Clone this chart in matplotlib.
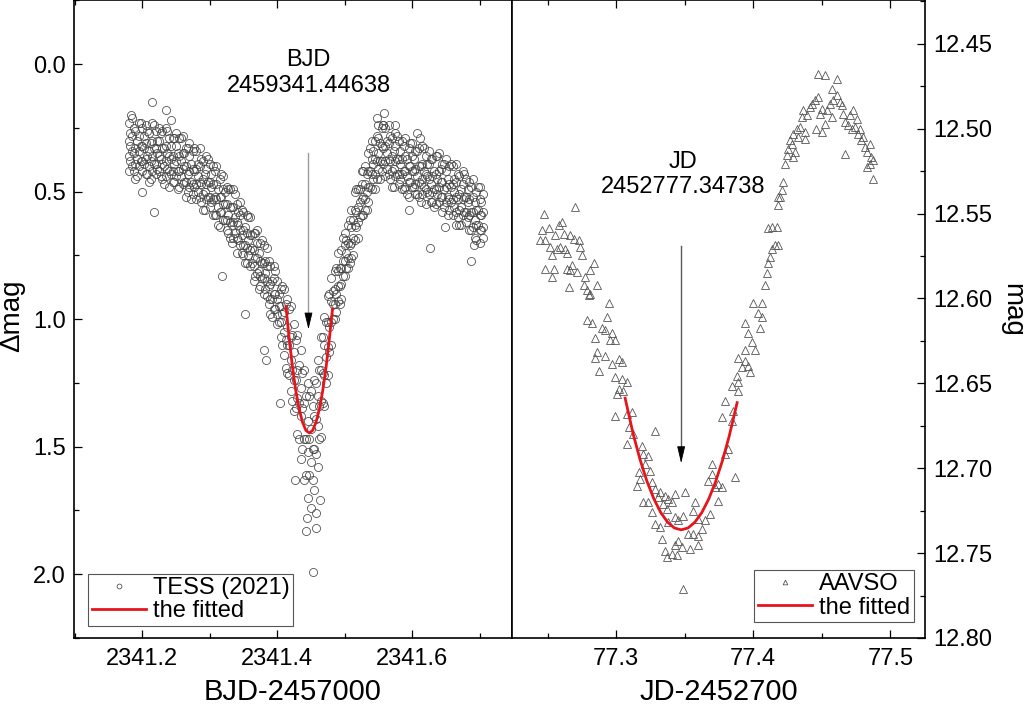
import numpy as np
import matplotlib
matplotlib.use("Agg")
import matplotlib.pyplot as plt
from matplotlib.ticker import MultipleLocator, FormatStrFormatter

plt.rcParams['font.family'] = ['Liberation Sans', 'DejaVu Sans']

# ---- TESS (2021), BJD-2457000 : four readings per time step ----
tess_t = [
    2341.180, 2341.185, 2341.190, 2341.195, 2341.200, 2341.205, 2341.210, 2341.215, 2341.220, 2341.225,
    2341.230, 2341.235, 2341.240, 2341.245, 2341.250, 2341.255, 2341.260, 2341.265, 2341.270, 2341.275,
    2341.280, 2341.285, 2341.290, 2341.295, 2341.300, 2341.305, 2341.310, 2341.315, 2341.320, 2341.325,
    2341.330, 2341.335, 2341.340, 2341.345, 2341.350, 2341.355, 2341.360, 2341.365, 2341.370, 2341.375,
    2341.380, 2341.385, 2341.390, 2341.395, 2341.400, 2341.405, 2341.410, 2341.415, 2341.420, 2341.425,
    2341.430, 2341.435, 2341.440, 2341.445, 2341.450, 2341.455, 2341.460, 2341.465, 2341.470, 2341.475,
    2341.480, 2341.485, 2341.490, 2341.495, 2341.500, 2341.505, 2341.510, 2341.515, 2341.520, 2341.525,
    2341.530, 2341.535, 2341.540, 2341.545, 2341.550, 2341.555, 2341.560, 2341.565, 2341.570, 2341.575,
    2341.580, 2341.585, 2341.590, 2341.595, 2341.600, 2341.605, 2341.610, 2341.615, 2341.620, 2341.625,
    2341.630, 2341.635, 2341.640, 2341.645, 2341.650, 2341.655, 2341.660, 2341.665, 2341.670, 2341.675,
    2341.680, 2341.685, 2341.690, 2341.695, 2341.700, 2341.705,
]
tess_dm = [
    [0.23, 0.30, 0.36, 0.42], [0.21, 0.28, 0.34, 0.40], [0.26, 0.33, 0.39, 0.45], [0.23, 0.28, 0.34, 0.40],
    [0.25, 0.32, 0.38, 0.42], [0.24, 0.31, 0.37, 0.43], [0.27, 0.34, 0.40, 0.46], [0.23, 0.30, 0.36, 0.42],
    [0.26, 0.33, 0.39, 0.43], [0.25, 0.30, 0.36, 0.42], [0.26, 0.33, 0.39, 0.45], [0.25, 0.32, 0.38, 0.44],
    [0.29, 0.36, 0.42, 0.48], [0.29, 0.36, 0.42, 0.46], [0.27, 0.32, 0.38, 0.44], [0.29, 0.36, 0.42, 0.48],
    [0.28, 0.35, 0.41, 0.47], [0.33, 0.40, 0.46, 0.52], [0.31, 0.36, 0.42, 0.48], [0.34, 0.41, 0.47, 0.51],
    [0.34, 0.41, 0.47, 0.53], [0.33, 0.40, 0.46, 0.52], [0.38, 0.45, 0.51, 0.57], [0.36, 0.41, 0.47, 0.53],
    [0.39, 0.46, 0.52, 0.56], [0.40, 0.47, 0.53, 0.59], [0.40, 0.47, 0.53, 0.59], [0.45, 0.52, 0.58, 0.64],
    [0.44, 0.49, 0.55, 0.61], [0.48, 0.55, 0.61, 0.65], [0.49, 0.56, 0.62, 0.68], [0.49, 0.56, 0.62, 0.68],
    [0.55, 0.62, 0.68, 0.74], [0.54, 0.59, 0.65, 0.71], [0.58, 0.65, 0.71, 0.75], [0.59, 0.66, 0.72, 0.78],
    [0.60, 0.67, 0.73, 0.79], [0.66, 0.73, 0.79, 0.85], [0.65, 0.70, 0.76, 0.82], [0.70, 0.77, 0.83, 0.87],
    [0.71, 0.78, 0.84, 0.90], [0.72, 0.79, 0.85, 0.91], [0.79, 0.86, 0.92, 0.98], [0.79, 0.84, 0.90, 0.96],
    [0.85, 0.92, 0.98, 1.02], [0.88, 0.95, 1.01, 1.07], [0.88, 0.97, 1.05, 1.14], [0.92, 1.03, 1.10, 1.21],
    [0.95, 1.07, 1.16, 1.28], [1.02, 1.13, 1.24, 1.36], [1.06, 1.20, 1.31, 1.45], [1.12, 1.27, 1.38, 1.55],
    [1.20, 1.33, 1.47, 1.63], [1.25, 1.40, 1.52, 1.70], [1.28, 1.43, 1.56, 1.74], [1.24, 1.38, 1.51, 1.67],
    [1.16, 1.30, 1.42, 1.58], [1.07, 1.20, 1.32, 1.46], [0.99, 1.10, 1.22, 1.34], [0.91, 1.01, 1.11, 1.22],
    [0.84, 0.93, 1.01, 1.10], [0.81, 0.88, 0.94, 1.00], [0.74, 0.81, 0.87, 0.93], [0.73, 0.80, 0.86, 0.92],
    [0.66, 0.71, 0.77, 0.83], [0.63, 0.70, 0.76, 0.80], [0.57, 0.64, 0.70, 0.76], [0.50, 0.57, 0.63, 0.69],
    [0.49, 0.56, 0.62, 0.68], [0.42, 0.47, 0.53, 0.59], [0.40, 0.47, 0.53, 0.57], [0.35, 0.42, 0.48, 0.54],
    [0.30, 0.37, 0.43, 0.49], [0.30, 0.37, 0.43, 0.49], [0.24, 0.29, 0.35, 0.41], [0.25, 0.32, 0.38, 0.42],
    [0.25, 0.32, 0.38, 0.44], [0.24, 0.31, 0.37, 0.43], [0.29, 0.36, 0.42, 0.48], [0.27, 0.32, 0.38, 0.44],
    [0.30, 0.37, 0.43, 0.47], [0.30, 0.37, 0.43, 0.49], [0.29, 0.36, 0.42, 0.48], [0.33, 0.40, 0.46, 0.52],
    [0.31, 0.36, 0.42, 0.48], [0.34, 0.41, 0.47, 0.51], [0.33, 0.40, 0.46, 0.52], [0.32, 0.39, 0.45, 0.51],
    [0.36, 0.43, 0.49, 0.55], [0.34, 0.39, 0.45, 0.51], [0.37, 0.44, 0.50, 0.54], [0.36, 0.43, 0.49, 0.55],
    [0.35, 0.42, 0.48, 0.54], [0.39, 0.46, 0.52, 0.58], [0.37, 0.42, 0.48, 0.54], [0.40, 0.47, 0.53, 0.57],
    [0.40, 0.47, 0.53, 0.59], [0.39, 0.46, 0.52, 0.58], [0.44, 0.51, 0.57, 0.63], [0.42, 0.47, 0.53, 0.59],
    [0.45, 0.52, 0.58, 0.62], [0.46, 0.53, 0.59, 0.65], [0.45, 0.52, 0.58, 0.64], [0.50, 0.57, 0.63, 0.69],
    [0.48, 0.53, 0.59, 0.65], [0.51, 0.58, 0.64, 0.68],
]
# interleaved time steps: three readings each
tess_t2 = [
    2341.1825, 2341.1875, 2341.1925, 2341.1975, 2341.2025, 2341.2075, 2341.2125, 2341.2175, 2341.2225,
    2341.2275, 2341.2325, 2341.2375, 2341.2425, 2341.2475, 2341.2525, 2341.2575, 2341.2625, 2341.2675,
    2341.2725, 2341.2775, 2341.2825, 2341.2875, 2341.2925, 2341.2975, 2341.3025, 2341.3075, 2341.3125,
    2341.3175, 2341.3225, 2341.3275, 2341.3325, 2341.3375, 2341.3425, 2341.3475, 2341.3525, 2341.3575,
    2341.3625, 2341.3675, 2341.3725, 2341.3775, 2341.3825, 2341.3875, 2341.3925, 2341.3975, 2341.4025,
    2341.4075, 2341.4125, 2341.4175, 2341.4225, 2341.4275, 2341.4325, 2341.4375, 2341.4425, 2341.4475,
    2341.4525, 2341.4575, 2341.4625, 2341.4675, 2341.4725, 2341.4775,
    2341.4825, 2341.4875, 2341.4925, 2341.4975, 2341.5025, 2341.5075, 2341.5125, 2341.5175, 2341.5225,
    2341.5275, 2341.5325, 2341.5375, 2341.5425, 2341.5475, 2341.5525, 2341.5575, 2341.5625, 2341.5675,
    2341.5725, 2341.5775, 2341.5825, 2341.5875, 2341.5925, 2341.5975, 2341.6025, 2341.6075, 2341.6125,
    2341.6175, 2341.6225, 2341.6275, 2341.6325, 2341.6375, 2341.6425, 2341.6475, 2341.6525, 2341.6575,
    2341.6625, 2341.6675, 2341.6725, 2341.6775, 2341.6825, 2341.6875, 2341.6925, 2341.6975, 2341.7025,
]
tess_dm2 = [
    [0.27, 0.32, 0.38], [0.25, 0.35, 0.42], [0.30, 0.37, 0.44], [0.23, 0.32, 0.38], [0.28, 0.33, 0.39],
    [0.26, 0.36, 0.43], [0.31, 0.38, 0.45], [0.24, 0.33, 0.39], [0.30, 0.35, 0.41], [0.27, 0.37, 0.44],
    [0.33, 0.40, 0.47], [0.26, 0.35, 0.41], [0.32, 0.37, 0.43], [0.29, 0.39, 0.46], [0.35, 0.42, 0.49],
    [0.29, 0.38, 0.44], [0.35, 0.40, 0.46], [0.33, 0.43, 0.50], [0.39, 0.46, 0.53], [0.33, 0.42, 0.48],
    [0.39, 0.44, 0.50], [0.37, 0.47, 0.54], [0.43, 0.50, 0.57], [0.37, 0.46, 0.52], [0.43, 0.48, 0.54],
    [0.42, 0.52, 0.59], [0.49, 0.56, 0.63], [0.43, 0.52, 0.58], [0.50, 0.55, 0.61], [0.49, 0.59, 0.66],
    [0.56, 0.63, 0.70], [0.51, 0.60, 0.66], [0.58, 0.63, 0.69], [0.57, 0.67, 0.74], [0.64, 0.71, 0.78],
    [0.60, 0.69, 0.75], [0.67, 0.72, 0.78], [0.66, 0.76, 0.83], [0.74, 0.81, 0.88], [0.69, 0.78, 0.84],
    [0.77, 0.82, 0.88], [0.77, 0.87, 0.94], [0.85, 0.92, 0.99], [0.81, 0.90, 0.96], [0.90, 0.95, 1.01],
    [0.87, 0.98, 1.10], [0.94, 1.08, 1.19], [0.96, 1.10, 1.22], [1.06, 1.20, 1.32], [1.08, 1.24, 1.35],
    [1.18, 1.33, 1.47], [1.21, 1.35, 1.51], [1.30, 1.47, 1.61], [1.30, 1.47, 1.61], [1.34, 1.51, 1.63],
    [1.25, 1.39, 1.53], [1.20, 1.34, 1.47], [1.07, 1.21, 1.33], [1.01, 1.15, 1.25], [0.90, 1.03, 1.13],
    [0.89, 0.94, 1.00], [0.80, 0.90, 0.97], [0.80, 0.87, 0.94], [0.68, 0.77, 0.83], [0.69, 0.74, 0.80],
    [0.61, 0.71, 0.78], [0.61, 0.68, 0.75], [0.49, 0.58, 0.64], [0.49, 0.54, 0.60], [0.42, 0.52, 0.59],
    [0.43, 0.50, 0.57], [0.33, 0.42, 0.48], [0.34, 0.39, 0.45], [0.28, 0.38, 0.45], [0.31, 0.38, 0.45],
    [0.24, 0.33, 0.39], [0.30, 0.35, 0.41], [0.28, 0.38, 0.45], [0.34, 0.41, 0.48], [0.28, 0.37, 0.43],
    [0.34, 0.39, 0.45], [0.32, 0.42, 0.49], [0.37, 0.44, 0.51], [0.31, 0.40, 0.46], [0.37, 0.42, 0.48],
    [0.34, 0.44, 0.51], [0.40, 0.47, 0.54], [0.33, 0.42, 0.48], [0.39, 0.44, 0.50], [0.37, 0.47, 0.54],
    [0.42, 0.49, 0.56], [0.36, 0.45, 0.51], [0.41, 0.46, 0.52], [0.39, 0.49, 0.56], [0.45, 0.52, 0.59],
    [0.39, 0.48, 0.54], [0.45, 0.50, 0.56], [0.43, 0.53, 0.60], [0.49, 0.56, 0.63], [0.43, 0.52, 0.58],
    [0.49, 0.54, 0.60], [0.48, 0.58, 0.65], [0.54, 0.61, 0.68], [0.48, 0.57, 0.63], [0.54, 0.59, 0.65],
]
# scattered single readings (edges and outliers)
tess_t_extra = [2341.215, 2341.218, 2341.200, 2341.626, 2341.687, 2341.559, 2341.318, 2341.352,
                2341.4535, 2341.443, 2341.457, 2341.444, 2341.458, 2341.426, 2341.463, 2341.381,
                2341.384, 2341.404, 2341.183, 2341.236, 2341.243, 2341.548, 2341.557, 2341.575,
                2341.607, 2341.611, 2341.596, 2341.648, 2341.665, 2341.692, 2341.700]
tess_dm_extra = [0.15, 0.58, 0.50, 0.72, 0.77, 0.19, 0.83, 0.98,
                 1.99, 1.83, 1.82, 1.78, 1.76, 1.63, 1.71, 1.12,
                 1.16, 1.33, 0.20, 0.18, 0.22, 0.21, 0.24, 0.24,
                 0.27, 0.29, 0.57, 0.64, 0.63, 0.71, 0.70]

# fitted curve through the TESS minimum
tess_fit_t = [2341.4131, 2341.4176, 2341.4226, 2341.4276, 2341.4326, 2341.4376, 2341.4426, 2341.4476,
              2341.4526, 2341.4576, 2341.4626, 2341.4676, 2341.4726, 2341.4776, 2341.4820]
tess_fit_dm = [0.950, 1.071, 1.186, 1.279, 1.352, 1.404, 1.436, 1.446,
               1.436, 1.404, 1.352, 1.279, 1.186, 1.071, 0.960]

# ---- AAVSO, JD-2452700 ----
aavso_t = [
    77.2471, 77.2458, 77.2507, 77.2446, 77.2483, 77.2580, 77.2604, 77.2701, 77.2556, 77.2616,
    77.2665, 77.2689, 77.2726, 77.2519, 77.2568, 77.2531, 77.2592, 77.2641, 77.2628, 77.2738,
    77.2750, 77.2483, 77.2543, 77.2531, 77.2641, 77.2677, 77.2665, 77.2713, 77.2835, 77.2811,
    77.2653, 77.2774, 77.2762, 77.2786, 77.2811, 77.2859, 77.2798, 77.2944, 77.2932, 77.2786,
    77.2823, 77.2896, 77.2920, 77.2968, 77.2956, 77.2993, 77.2847, 77.2859,
    77.2847, 77.2920, 77.2968, 77.3017, 77.3041, 77.2871, 77.2993, 77.3041, 77.3078, 77.3017,
    77.3053, 77.3005, 77.2993, 77.3078, 77.3114, 77.3090, 77.3126, 77.3078, 77.3187, 77.3199,
    77.3235, 77.3211, 77.3248, 77.3163, 77.3175, 77.3150, 77.3260, 77.3284, 77.3320, 77.3284,
    77.3357, 77.3308, 77.3381, 77.3430, 77.3405, 77.3199, 77.3235, 77.3260, 77.3345, 77.3369,
    77.3284, 77.3320, 77.3381, 77.3430, 77.3454, 77.3490, 77.3503, 77.3575, 77.3563, 77.3600,
    77.3527, 77.3563, 77.3600, 77.3624, 77.3648, 77.3685, 77.3333, 77.3454, 77.3478, 77.3430,
    77.3405, 77.3442, 77.3357, 77.3369, 77.3539, 77.3600, 77.3490,
    77.3672, 77.3697, 77.3721, 77.3745, 77.3697, 77.3745, 77.3770, 77.3794, 77.3818, 77.3867,
    77.3770, 77.3794, 77.3842, 77.3891, 77.3855, 77.3842, 77.3891, 77.3879, 77.3915, 77.3940,
    77.3964, 77.3976, 77.3891,
    77.3940, 77.3964, 77.3988, 77.4012, 77.3940, 77.4049, 77.4037, 77.4000, 77.4061, 77.4061,
    77.4085, 77.4097, 77.4110, 77.4122, 77.4134, 77.4158, 77.4182, 77.4170, 77.4134, 77.4110,
    77.4182, 77.4194, 77.4207, 77.4219, 77.4182, 77.4231, 77.4243, 77.4255, 77.4279, 77.4292,
    77.4304, 77.4267, 77.4292, 77.4316, 77.4328, 77.4340, 77.4377, 77.4377, 77.4352, 77.4364,
    77.4389, 77.4413, 77.4425, 77.4449, 77.4474, 77.4498, 77.4522, 77.4498, 77.4461, 77.4486,
    77.4534, 77.4559, 77.4571, 77.4583, 77.4607, 77.4632, 77.4644, 77.4656, 77.4668, 77.4692,
    77.4717, 77.4729, 77.4753, 77.4741, 77.4765, 77.4777, 77.4789, 77.4802, 77.4814, 77.4826,
    77.4850, 77.4862, 77.4850, 77.4874, 77.4874, 77.4826, 77.4668, 77.4571, 77.4607, 77.4474,
    77.4522, 77.4704,
]
aavso_mag = [
    12.5500, 12.5598, 12.5588, 12.5657, 12.5657, 12.5569, 12.5549, 12.5461, 12.5627, 12.5618,
    12.5627, 12.5647, 12.5657, 12.5696, 12.5706, 12.5745, 12.5696, 12.5735, 12.5706, 12.5696,
    12.5745, 12.5824, 12.5824, 12.5873, 12.5824, 12.5804, 12.5833, 12.5843, 12.5794, 12.5833,
    12.5931, 12.5873, 12.5922, 12.5951, 12.5971, 12.5922, 12.5980, 12.6029, 12.6108, 12.6127,
    12.6147, 12.6176, 12.6186, 12.6206, 12.6245, 12.6245, 12.6235, 12.6314,
    12.6348, 12.6338, 12.6387, 12.6357, 12.6377, 12.6426, 12.6465, 12.6475, 12.6495, 12.6534,
    12.6544, 12.6563, 12.6691, 12.6681, 12.6671, 12.6759, 12.6799, 12.6857, 12.6867, 12.6916,
    12.6926, 12.6975, 12.7014, 12.7024, 12.7063, 12.7103, 12.7083, 12.7122, 12.7142, 12.6779,
    12.7161, 12.7171, 12.7181, 12.7152, 12.7201, 12.7201, 12.7201, 12.7259, 12.7210, 12.7240,
    12.7328, 12.7348, 12.7318, 12.7289, 12.7308, 12.7279, 12.7142, 12.7201, 12.7250, 12.7299,
    12.7387, 12.7387, 12.7397, 12.7357, 12.7308, 12.7269, 12.7416, 12.7426, 12.7465, 12.7455,
    12.7504, 12.7514, 12.7485, 12.7524, 12.7475, 12.7455, 12.7710,
    12.7073, 12.7034, 12.7112, 12.7191, 12.6975, 12.7093, 12.7112, 12.6916, 12.6887, 12.7054,
    12.6700, 12.6603, 12.6514, 12.6495, 12.6661, 12.6720, 12.6544, 12.6455, 12.6406, 12.6367,
    12.6397, 12.6436, 12.6348,
    12.6147, 12.6206, 12.6255, 12.6304, 12.6304, 12.6176, 12.6088, 12.6029, 12.6029, 12.6108,
    12.5922, 12.5853, 12.5794, 12.5755, 12.5706, 12.5686, 12.5686, 12.5578, 12.5578, 12.5588,
    12.5451, 12.5402, 12.5363, 12.5314, 12.5402, 12.5206, 12.5157, 12.5118, 12.5088, 12.5167,
    12.5137, 12.5069, 12.5029, 12.5000, 12.5049, 12.4990, 12.5020, 12.5059, 12.4931, 12.4892,
    12.4922, 12.4873, 12.4853, 12.4833, 12.4814, 12.4882, 12.4971, 12.5020, 12.5000, 12.4912,
    12.4892, 12.4853, 12.4931, 12.4833, 12.4804, 12.4843, 12.4863, 12.4912, 12.4961, 12.4980,
    12.5000, 12.4892, 12.4941, 12.4990, 12.5029, 12.5000, 12.5069, 12.5049, 12.5108, 12.5137,
    12.5088, 12.5167, 12.5206, 12.5186, 12.5294, 12.5225, 12.5147, 12.4765, 12.4706, 12.4676,
    12.4686, 12.4922,
]

aavso_fit_t = [77.3065, 77.3124, 77.3174, 77.3224, 77.3274, 77.3324, 77.3374, 77.3424, 77.3474,
               77.3524, 77.3574, 77.3624, 77.3674, 77.3724, 77.3774, 77.3824, 77.3882]
aavso_fit_mag = [12.6587, 12.6799, 12.6949, 12.7076, 12.7179, 12.7260, 12.7317, 12.7352, 12.7363,
                 12.7352, 12.7318, 12.7262, 12.7183, 12.7082, 12.6958, 12.6812, 12.6614]

# times of minimum and arrow extents
tess_min = 2341.44638
tess_arrow = (0.35, 1.04)
aavso_min = 77.34738
aavso_arrow = (12.569, 12.697)

RED = '#e8141c'
FS = 17

fig = plt.figure(figsize=(10.24, 7.08), dpi=100)
ax1 = fig.add_axes([0.0723, 0.0989, 0.4277, 0.9004])
ax2 = fig.add_axes([0.5, 0.0989, 0.4030, 0.9004])

# left panel: TESS
t_all = np.concatenate([np.repeat(tess_t, 4), np.repeat(tess_t2, 3), tess_t_extra])
dm_all = np.concatenate([np.ravel(tess_dm), np.ravel(tess_dm2), tess_dm_extra])
ax1.plot(t_all, dm_all, ls='none', marker='o', ms=5.8, mfc='none',
         mec='#444444', mew=0.55, label='TESS (2021)')
ax1.plot(tess_fit_t, tess_fit_dm, color=RED, lw=2, label='the fitted')

head = 0.06
ax1.plot([tess_min, tess_min], [tess_arrow[0], tess_arrow[1] - head], color='#9a9a9a', lw=1)
ax1.annotate('', xy=(tess_min, tess_arrow[1]), xytext=(tess_min, tess_arrow[1] - head),
             arrowprops=dict(arrowstyle='-|>,head_length=1.05,head_width=0.25',
                             color='black', lw=0.6, shrinkA=0, shrinkB=0))
ax1.text(tess_min, 0.035, 'BJD\n2459341.44638', ha='center', va='center', fontsize=FS)

ax1.set_xlim(2341.099, 2341.748)
ax1.set_ylim(2.25, -0.25)
ax1.xaxis.set_major_locator(MultipleLocator(0.2))
ax1.xaxis.set_minor_locator(MultipleLocator(0.1))
ax1.yaxis.set_major_locator(MultipleLocator(0.5))
ax1.yaxis.set_minor_locator(MultipleLocator(0.25))
ax1.xaxis.set_major_formatter(FormatStrFormatter('%.1f'))
ax1.yaxis.set_major_formatter(FormatStrFormatter('%.1f'))
ax1.tick_params(which='both', direction='in', top=True, right=False, width=0.9, labelsize=FS)
ax1.tick_params(which='major', length=5.8)
ax1.tick_params(which='minor', length=3.6)
ax1.tick_params(axis='x', pad=7)
ax1.tick_params(axis='y', pad=6)
ax1.set_xlabel('BJD-2457000', fontsize=21, labelpad=6)
ax1.set_ylabel('Δmag', fontsize=20, va='center')
ax1.yaxis.set_label_coords(-0.1416, 0.505)

leg1 = ax1.legend(loc='lower left', bbox_to_anchor=(0.032, 0.019), fontsize=FS,
                  fancybox=False, edgecolor='#555555', framealpha=1, borderpad=0.15,
                  labelspacing=0.05, handlelength=2.3, handletextpad=0.3,
                  borderaxespad=0, markerscale=0.6)
leg1.get_frame().set_linewidth(0.8)

# right panel: AAVSO
ax2.plot(aavso_t, aavso_mag, ls='none', marker='^', ms=5.6, mfc='none',
         mec='#555555', mew=0.6, label='AAVSO')
ax2.plot(aavso_fit_t, aavso_fit_mag, color=RED, lw=2, label='the fitted')

head2 = 0.0085
ax2.plot([aavso_min, aavso_min], [aavso_arrow[0], aavso_arrow[1] - head2], color='#5a5a5a', lw=1)
ax2.annotate('', xy=(aavso_min, aavso_arrow[1]), xytext=(aavso_min, aavso_arrow[1] - head2),
             arrowprops=dict(arrowstyle='-|>,head_length=1.05,head_width=0.25',
                             color='black', lw=0.6, shrinkA=0, shrinkB=0))
ax2.text(aavso_min + 0.0015, 12.527, 'JD\n2452777.34738', ha='center', va='center', fontsize=FS)

ax2.set_xlim(77.224, 77.525)
ax2.set_ylim(12.80, 12.4245)
ax2.xaxis.set_major_locator(MultipleLocator(0.1))
ax2.xaxis.set_minor_locator(MultipleLocator(0.05))
ax2.yaxis.set_major_locator(MultipleLocator(0.05))
ax2.yaxis.set_minor_locator(MultipleLocator(0.025))
ax2.xaxis.set_major_formatter(FormatStrFormatter('%.1f'))
ax2.yaxis.set_major_formatter(FormatStrFormatter('%.2f'))
ax2.yaxis.tick_right()
ax2.yaxis.set_label_position('right')
ax2.tick_params(which='both', direction='in', top=True, left=False, right=True,
                labelleft=False, labelright=True, width=0.9, labelsize=FS)
ax2.tick_params(which='major', length=5.8)
ax2.tick_params(which='minor', length=3.6)
ax2.tick_params(axis='x', pad=7)
ax2.tick_params(axis='y', pad=6)
ax2.set_xlabel('JD-2452700', fontsize=21, labelpad=6)
ax2.set_ylabel('mag', fontsize=20, rotation=270, va='center', ha='center')
ax2.yaxis.set_label_coords(1.2115, 0.514)

leg2 = ax2.legend(loc='lower right', bbox_to_anchor=(0.974, 0.025), fontsize=FS,
                  fancybox=False, edgecolor='#555555', framealpha=1, borderpad=0.15,
                  labelspacing=0.05, handlelength=2.3, handletextpad=0.3,
                  borderaxespad=0, markerscale=0.6)
leg2.get_frame().set_linewidth(0.8)

for ax in (ax1, ax2):
    for sp in ax.spines.values():
        sp.set_linewidth(1.2)
        sp.set_color('black')

fig.savefig('out.png', dpi=100, facecolor='white')
